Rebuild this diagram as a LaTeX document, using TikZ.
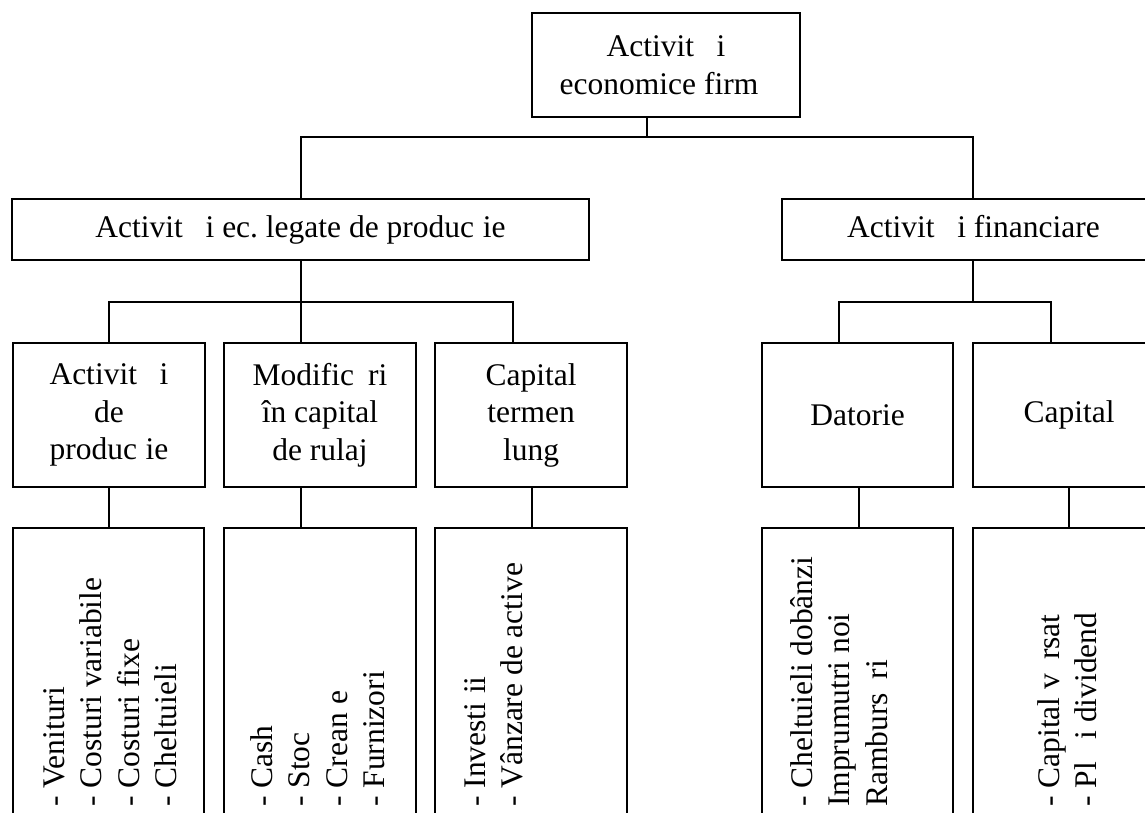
\documentclass[tikz,border=0pt]{standalone}
\usepackage{fontspec}
\setmainfont{Liberation Serif}
% letters the original font could not show: they keep their width, draw nothing
\newcommand\miss[1]{\phantom{#1}}
\frenchspacing
\begin{document}
\begin{tikzpicture}[x=1pt,y=-1pt,
  every node/.style={font=\fontsize{31.5}{37.5}\selectfont},
  box/.style={draw, line width=1.8pt, inner sep=0pt, align=center},
  wire/.style={line width=2pt},
  list/.style={rotate=90, anchor=north west, align=left, inner sep=0pt}]
\useasboundingbox (0,0) rectangle (1145,812);
\clip (0,0) rectangle (1145,812);
\fill[white] (0,0) rectangle (1145,812);

% level 0
\node[box, minimum width=268, minimum height=104] (T) at (666,65)
  {Activit\miss{ăţ}i\\economice firm\miss{ă}};

% level 1
\node[box, minimum width=577, minimum height=61] (A) at (300.5,229.5)
  {Activit\miss{ăţ}i ec. legate de produc\miss{ţ}ie};
\node[box, minimum width=383, minimum height=61] (B) at (973.5,229.5)
  {Activit\miss{ăţ}i financiare};

% level 2
\node[box, minimum width=192, minimum height=144] (M1) at (109,415)
  {Activit\miss{ăţ}i\\de\\produc\miss{ţ}ie};
\node[box, minimum width=192, minimum height=144] (M2) at (320,415)
  {Modific\miss{ă}ri\\în capital\\de rulaj};
\node[box, minimum width=192, minimum height=144] (M3) at (531,415)
  {Capital\\termen\\lung};
\node[box, minimum width=191, minimum height=144] (M4) at (857.5,415)
  {Datorie};
\node[box, minimum width=192, minimum height=144] (M5) at (1069,415)
  {Capital};

% level 3
\node[box, minimum width=191, minimum height=312] (B1) at (108.5,684) {};
\node[box, minimum width=192, minimum height=312] (B2) at (320,684) {};
\node[box, minimum width=192, minimum height=312] (B3) at (531,684) {};
\node[box, minimum width=191, minimum height=312] (B4) at (857.5,684) {};
\node[box, minimum width=192, minimum height=312] (B5) at (1069,684) {};

\node[list] (L1) at (43,807)
  {- Venituri\\- Costuri variabile\\- Costuri fixe\\- Cheltuieli};
\node[list] (L2) at (250,807)
  {- Cash\\- Stoc\\- Crean\miss{ţ}e\\- Furnizori};
\node[list] (L3) at (464,807)
  {- Investi\miss{ţ}ii\\- Vânzare de active};
\node[list] (L4) at (790,807)
  {- Cheltuieli dobânzi\\Imprumutri noi\\Ramburs\miss{ă}ri};
\node[list] (L5) at (1037,807)
  {- Capital v\miss{ă}rsat\\- Pl\miss{ăţ}i dividend};

% junction points of the connectors
\coordinate (j0) at (647,137);
\coordinate (kA) at (301,137);
\coordinate (kB) at (973,137);
\coordinate (l1) at (109,302);
\coordinate (l3) at (513,302);
\coordinate (r1) at (839,302);
\coordinate (r2) at (1051,302);
\coordinate (d3) at (532,507);
\coordinate (d4) at (859,507);
\coordinate (d5) at (1069,507);

% connectors
\draw[wire] (T.south -| j0) -- (j0);
\draw[wire] (A.north -| kA) -- (kA) -- (kB) -- (B.north -| kB);
\draw[wire] (A.south -| kA) -- (kA |- l1) -- (M2.north -| kA);
\draw[wire] (M1.north -| l1) -- (l1) -- (l3) -- (M3.north -| l3);
\draw[wire] (B.south -| kB) -- (kB |- r1);
\draw[wire] (M4.north -| r1) -- (r1) -- (r2) -- (M5.north -| r2);
\draw[wire] (M1.south -| l1) -- (B1.north -| l1);
\draw[wire] (M2.south -| kA) -- (B2.north -| kA);
\draw[wire] (M3.south -| d3) -- (B3.north -| d3);
\draw[wire] (M4.south -| d4) -- (B4.north -| d4);
\draw[wire] (M5.south -| d5) -- (B5.north -| d5);
\end{tikzpicture}
\end{document}
